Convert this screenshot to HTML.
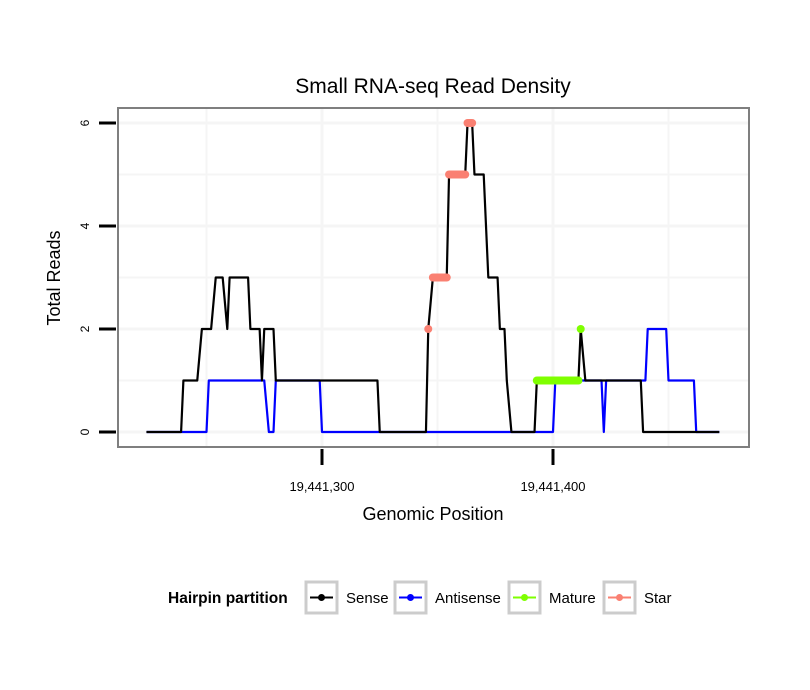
<!DOCTYPE html>
<html><head><meta charset="utf-8"><style>
body{margin:0;background:#fff}
svg{display:block;font-family:"Liberation Sans",sans-serif}
</style></head><body>
<svg id="chart" width="810" height="690">
<rect width="810" height="690" fill="#fff"/>
<g id="grid"></g>
<g id="series"></g>
<rect x="118" y="108" width="631" height="339" fill="none" stroke="#7f7f7f" stroke-width="2"/>
<g id="axes"></g>
<text x="433" y="93" font-size="21" text-anchor="middle">Small RNA-seq Read Density</text>
<text x="433" y="520" font-size="18" text-anchor="middle">Genomic Position</text>
<text transform="translate(60,278) rotate(-90)" font-size="18" text-anchor="middle">Total Reads</text>
<g id="legend">
<text x="168" y="603" font-size="15.5" font-weight="bold">Hairpin partition</text>
</g>
</svg>
<script>
const base = 19441300;
const senseX = [-76,-61,-60,-54,-52,-48,-46,-43,-41,-40,-32,-31,-27,-26,-25,-21,-20,24,25,45,46,48,54,55,62,63,65,66,70,72,76,77,79,80,82,92,93,111,112,114,138,139,172];
const senseY = [0,0,1,1,2,2,3,3,2,3,3,2,2,1,2,2,1,1,0,0,2,3,3,5,5,6,6,5,5,3,3,2,2,1,0,0,1,1,2,1,1,0,0];
const antiX = [-76,-50,-49,-25,-23,-21,-20,-1,0,100,101,121,122,123,140,141,149,150,161,162,172];
const antiY = [0,0,1,1,0,0,1,1,0,0,1,1,0,1,1,2,2,1,1,0,0];
const starStart = [46,48,55,63];
const starEnd = [46,54,62,65];
const starY = [2,3,5,6];
const matureStart = [93,112];
const matureEnd = [111,112];
const matureY = [1,2];
const yTicks = [0,2,4,6];
const xTicks = [19441300,19441400];
const xTickLabels = ["19,441,300","19,441,400"];
const legendLabels = ["Sense","Antisense","Mature","Star"];
const legendColors = ["#000","#0000ff","#7fff00","#fa8072"];

const NS="http://www.w3.org/2000/svg";
const sx = o => 322 + o*2.31;
const sxg = g => sx(g-base);
const sy = v => 432 - v*51.5;
function mk(tag, attrs, parent){const e=document.createElementNS(NS,tag);for(const k in attrs)e.setAttribute(k,attrs[k]);parent.appendChild(e);return e;}
const grid=document.getElementById('grid'), series=document.getElementById('series'), axes=document.getElementById('axes'), legend=document.getElementById('legend');
for(let v=0; v<=6; v++){
  const l=mk('line',{x1:118,x2:749,y1:sy(v),y2:sy(v),stroke:'#f5f5f5','stroke-width':v%2?2:3},grid);
  
  
}
for(let g=base-50; g<=base+150; g+=50){
  const l=mk('line',{x1:sxg(g),x2:sxg(g),y1:108,y2:447,stroke:'#f5f5f5','stroke-width':(g-base)%100?2:3},grid);
  
  
}
function line(xs,ys,color,name){
  const p=mk('polyline',{points:xs.map((x,i)=>sx(x)+','+sy(ys[i])).join(' '),fill:'none',stroke:color,'stroke-width':2.2,'stroke-linejoin':'round'},series);
  
  
}
line(antiX,antiY,'#0000ff','antisense-line');
line(senseX,senseY,'#000','sense-line');
function segs(s,e,y,color,name){
  s.forEach((a,i)=>{
    const l=mk('line',{x1:sx(a),x2:sx(e[i]),y1:sy(y[i]),y2:sy(y[i]),stroke:color,'stroke-width':8,'stroke-linecap':'round'},series);
    
    
  });
}
segs(matureStart,matureEnd,matureY,'#7fff00','mature-marker');
segs(starStart,starEnd,starY,'#fa8072','star-marker');
yTicks.forEach(v=>{
  const t=mk('line',{x1:99,x2:116,y1:sy(v),y2:sy(v),stroke:'#000','stroke-width':3},axes);
  
  
  const tx=mk('text',{transform:`translate(89,${sy(v)}) rotate(-90)`,'font-size':12,'text-anchor':'middle'},axes);
  tx.textContent=v;
  
  
});
xTicks.forEach((g,i)=>{
  const t=mk('line',{x1:sxg(g),x2:sxg(g),y1:449,y2:465,stroke:'#000','stroke-width':3},axes);
  
  
  const tx=mk('text',{x:sxg(g),y:491,'font-size':13,'text-anchor':'middle'},axes);
  tx.textContent=xTickLabels[i];
  
  
});
const boxX=[306,395,509,604];
legendLabels.forEach((lab,i)=>{
  const b=mk('rect',{x:boxX[i],y:582,width:31,height:31,fill:'#fff',stroke:'#cccccc','stroke-width':3},legend);
  
  
  const l=mk('line',{x1:boxX[i]+4,x2:boxX[i]+27,y1:597.5,y2:597.5,stroke:legendColors[i],'stroke-width':2},legend);
  
  
  const c=mk('circle',{cx:boxX[i]+15.5,cy:597.5,r:3.5,fill:legendColors[i]},legend);
  
  
  const t=mk('text',{x:boxX[i]+40,y:603,'font-size':15},legend);
  t.textContent=lab;
  
  
});
</script>
</body></html>
